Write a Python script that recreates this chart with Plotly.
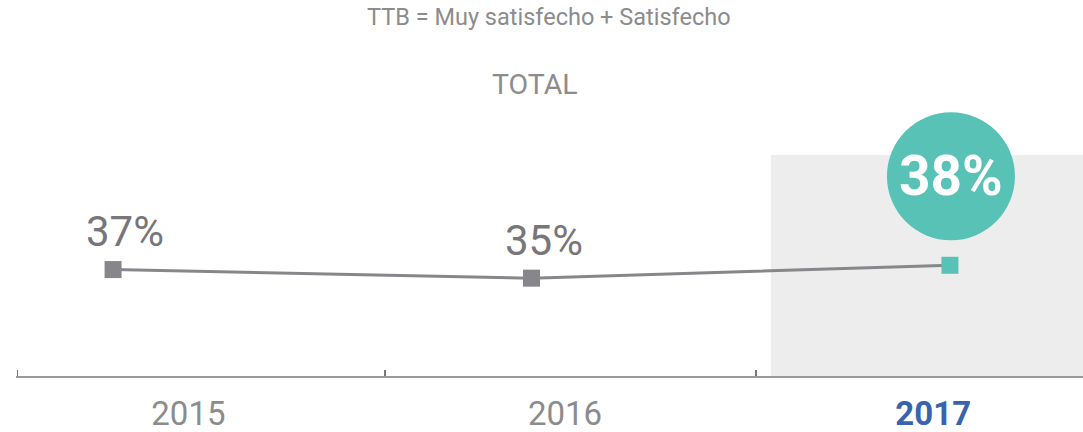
import plotly.graph_objects as go

years = [2015, 2016, 2017]
values = [37, 35, 38]
value_labels = ["37%", "35%", "38%"]
tick_labels = ["2015", "2016", "2017"]
title_text = "TTB = Muy satisfecho + Satisfecho"
subtitle_text = "TOTAL"

GRAY = "#87868a"
TEAL = "#57c2b5"
TEXT = "#8c8c8c"
BLUE = "#3a63ad"
FONT = "Roboto"

x_range = [2014.768, 2017.318]
y_range = [12.19, 85.85]

fig = go.Figure()
fig.add_trace(go.Scatter(
    x=years, y=values, mode="lines+markers",
    line=dict(color=GRAY, width=3),
    marker=dict(symbol="square", size=17,
                color=[GRAY if y != years[-1] else TEAL for y in years],
                line=dict(width=0)),
    hoverinfo="skip", showlegend=False,
))

# highlight background for last year
fig.add_shape(type="rect", xref="x", yref="paper",
              x0=2016.572, x1=x_range[1], y0=0, y1=0.6994,
              fillcolor="#ededed", line=dict(width=0), layer="below")

# circle behind last value
fig.add_shape(type="circle", xref="x", yref="y",
              xsizemode="pixel", ysizemode="pixel",
              xanchor=years[-1], yanchor=values[-1],
              x0=-63, x1=65, y0=25, y1=153,
              fillcolor=TEAL, line=dict(width=0), layer="above")

annotations = []
for yr, v, lab in zip(years[:-1], values[:-1], value_labels[:-1]):
    annotations.append(dict(x=yr, y=v, text=lab, showarrow=False,
                            xshift=12, yshift=38,
                            xanchor="center", yanchor="middle",
                            font=dict(family=FONT, size=42, color="#77767a")))
annotations.append(dict(x=years[-1], y=values[-1], text="<b>" + value_labels[-1] + "</b>",
                        showarrow=False, xshift=1, yshift=89,
                        xanchor="center", yanchor="middle",
                        font=dict(family=FONT, size=55, color="white")))
annotations.append(dict(xref="paper", yref="paper", x=0.4995, y=1.136,
                        text=title_text, showarrow=False,
                        xanchor="center", yanchor="middle",
                        font=dict(family=FONT, size=23.5, color=TEXT)))
annotations.append(dict(xref="paper", yref="paper", x=0.486, y=0.921,
                        text=subtitle_text, showarrow=False,
                        xanchor="center", yanchor="middle",
                        font=dict(family=FONT, size=28.5, color=TEXT)))

ticktext = tick_labels[:-1] + [f"<span style='color:{BLUE}'><b>{tick_labels[-1]}</b></span>"]

fig.update_layout(
    width=1083, height=432,
    margin=dict(l=16, r=0, t=60, b=56, autoexpand=False),
    plot_bgcolor="white", paper_bgcolor="white",
    annotations=annotations,
    xaxis=dict(range=x_range, showgrid=False, zeroline=False,
               showline=True, linecolor="#9a9a9a", linewidth=2,
               tickmode="array", tickvals=[2015.18, 2016.08, 2016.96],
               ticktext=ticktext, ticks="", ticklabelstandoff=7,
               tickfont=dict(family=FONT, size=33, color=TEXT),
               minor=dict(tickmode="array", tickvals=[2014.772, 2015.65, 2016.536],
                          ticks="inside", ticklen=6, tickwidth=1.5, tickcolor="#777")),
    yaxis=dict(range=y_range, visible=False, showgrid=False, zeroline=False),
)

fig.write_html("out.html",
               config={"displayModeBar": False, "staticPlot": True},
               post_script="document.body.style.margin='0px';document.body.style.overflow='hidden';")
